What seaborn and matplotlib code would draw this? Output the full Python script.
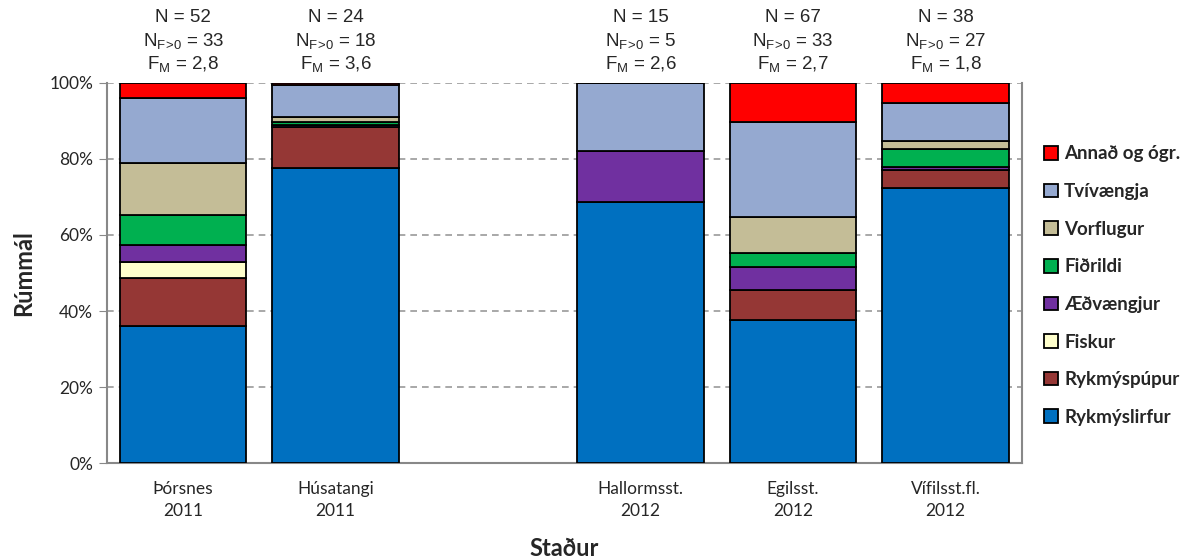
import pandas as pd
import matplotlib.pyplot as plt
import seaborn as sns

sites = ['Þórsnes\n2011', 'Húsatangi\n2011', 'Hallormsst.\n2012', 'Egilsst.\n2012', 'Vífilsst.fl.\n2012']
order = ['Þórsnes\n2011', 'Húsatangi\n2011', ' ', 'Hallormsst.\n2012', 'Egilsst.\n2012', 'Vífilsst.fl.\n2012']

# stack order bottom -> top
groups = ['Rykmýslirfur', 'Rykmýspúpur', 'Fiskur', 'Æðvængjur', 'Fiðrildi', 'Vorflugur', 'Tvívængja', 'Annað og ógr.']
rykmyslirfur = [36.1, 77.5, 68.8, 37.6, 72.4]
rykmyspupur = [12.5, 10.8, 0.0, 7.9, 4.6]
fiskur = [4.3, 0.0, 0.0, 0.0, 0.0]
aedvaengjur = [4.4, 0.6, 13.2, 6.0, 1.0]
fidrildi = [8.0, 0.8, 0.0, 3.8, 4.6]
vorflugur = [13.5, 1.4, 0.0, 9.5, 2.1]
tvivaengja = [17.2, 8.3, 18.0, 24.8, 9.9]
annad = [4.0, 0.6, 0.0, 10.4, 5.4]

n_total = [52, 24, 15, 67, 38]
n_f = [33, 18, 5, 33, 27]
f_m = ['2,8', '3,6', '2,6', '2,7', '1,8']

colors = ['#0070C0', '#953735', '#FFFFCC', '#7030A0', '#00B050', '#C4BD97', '#95A9D0', '#FF0000']

df = pd.DataFrame({'site': sites,
                   'Rykmýslirfur': rykmyslirfur, 'Rykmýspúpur': rykmyspupur,
                   'Fiskur': fiskur, 'Æðvængjur': aedvaengjur, 'Fiðrildi': fidrildi,
                   'Vorflugur': vorflugur, 'Tvívængja': tvivaengja, 'Annað og ógr.': annad})

sns.set_style('white')
plt.rcParams['font.family'] = ['Lato', 'DejaVu Sans']
plt.rcParams['mathtext.fontset'] = 'custom'
plt.rcParams['mathtext.rm'] = 'Liberation Sans'
plt.rcParams['mathtext.it'] = 'Liberation Sans'

fig = plt.figure(figsize=(11.91, 5.6), dpi=100)
ax = fig.add_axes([0.0898, 0.173, 0.768, 0.679])

bottom = pd.Series([0.0] * len(df))
for g, c in zip(groups, colors):
    sns.barplot(data=df, x='site', y=g, order=order, color=c, bottom=bottom.values,
                width=0.83, edgecolor='black', linewidth=1.3, label=g, ax=ax,
                saturation=1, zorder=3)
    bottom = bottom + df[g]

ax.set_ylim(0, 100)
ax.set_xlim(-0.5, 5.5)
ax.set_yticks([0, 20, 40, 60, 80, 100])
ax.set_yticklabels(['0%', '20%', '40%', '60%', '80%', '100%'], fontsize=12.5)
ax.tick_params(axis='y', length=6, color='#888888', direction='out', left=True, pad=4)
ax.tick_params(axis='x', length=0, labelsize=12.5, pad=13)
for t in ax.get_xticklabels():
    t.set_linespacing(1.45)
ax.grid(axis='y', color='#999999', linestyle=(0, (4, 3)), linewidth=1.2, zorder=0)
ax.set_axisbelow(True)
for side in ['left', 'bottom', 'right']:
    ax.spines[side].set_color('#888888')
    ax.spines[side].set_linewidth(1.5)
ax.spines['top'].set_visible(False)

ax.set_xlabel('Staður', fontsize=17, fontweight='bold', labelpad=13)
ax.set_ylabel('Rúmmál', fontsize=17, fontweight='bold', labelpad=10)

# header annotations
xpos = [order.index(s) for s in sites]
hfam = ['Liberation Sans', 'DejaVu Sans']
tr = ax.get_xaxis_transform()
for x, n, nf, fm in zip(xpos, n_total, n_f, f_m):
    ax.text(x, 1.171, f'N = {n}', transform=tr, ha='center', va='center', fontsize=13.5, family=hfam)
    ax.text(x, 1.111, r'N$_{\mathregular{F\!>\!0}}$ = ' + str(nf), transform=tr, ha='center', va='center', fontsize=13.5, family=hfam)
    ax.text(x, 1.050, r'F$_{\mathregular{M}}$ = ' + fm, transform=tr, ha='center', va='center', fontsize=13.5, family=hfam)

handles, labels = ax.get_legend_handles_labels()
leg = ax.legend(handles[::-1], labels[::-1], loc='center left', bbox_to_anchor=(0.862, 0.49),
                bbox_transform=fig.transFigure, frameon=False, handlelength=0.75, handleheight=0.75,
                handletextpad=0.35, labelspacing=1.1, prop={'weight': 'bold', 'size': 13.5})

fig.savefig('out.png', dpi=100)
